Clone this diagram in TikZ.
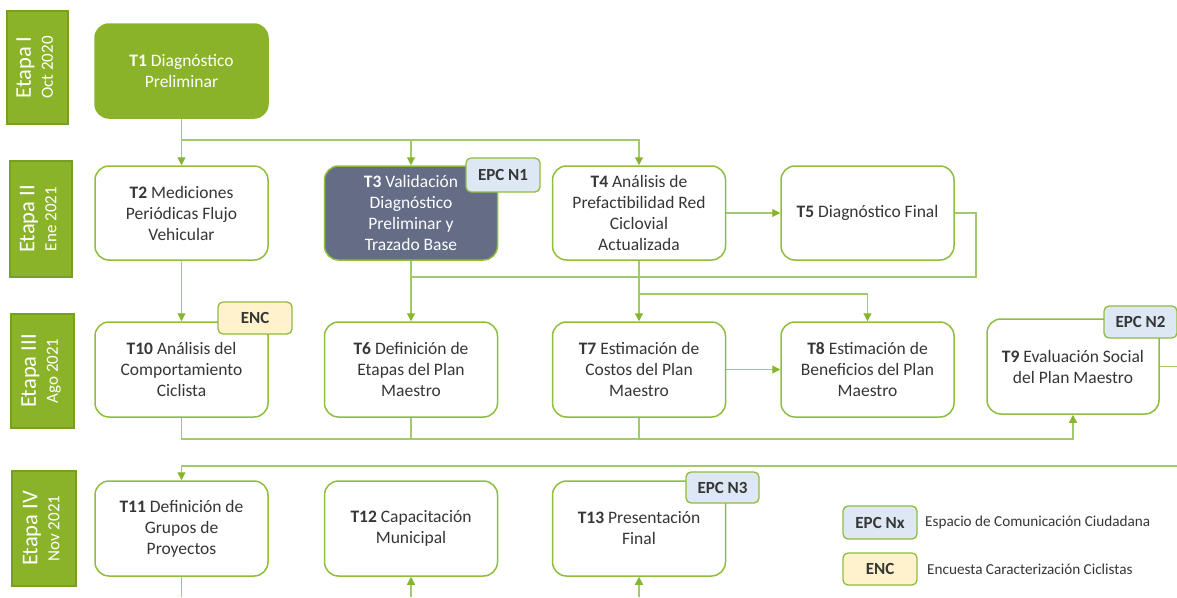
\documentclass[tikz,border=0pt]{standalone}
\usepackage{fontspec}
\setmainfont{Carlito}
\usepackage{graphicx}
\usetikzlibrary{arrows.meta}
\definecolor{stagegreen}{HTML}{8AB32A}
\definecolor{stageedge}{HTML}{76A024}
\definecolor{boxedge}{HTML}{8FBD3D}
\definecolor{linegreen}{HTML}{A2C96A}
\definecolor{tipgreen}{HTML}{86B52E}
\definecolor{slate}{HTML}{646C86}
\definecolor{epcblue}{HTML}{DDE8F4}
\definecolor{encyellow}{HTML}{FFF2CC}
\definecolor{txt}{HTML}{363636}
\newcommand\etapalbl[2]{\rotatebox{90}{\fontsize{17}{22}\selectfont\begin{tabular}{@{}c@{}}{\fontsize{22.5}{22}\selectfont #1}\\#2\end{tabular}}}
\begin{document}
\begin{tikzpicture}[x=1pt,y=-1pt,
  task/.style={draw=boxedge, line width=1.5pt, rounded corners=14pt, fill=white,
    minimum width=173pt, minimum height=94pt, inner sep=0pt, align=center,
    text=txt, font=\fontsize{17.5}{21}\selectfont},
  badge/.style={draw=boxedge, line width=1.3pt, rounded corners=5pt,
    minimum width=73pt, minimum height=32pt, inner sep=0pt,
    font=\fontsize{17}{20}\selectfont\bfseries, text=txt},
  epc/.style={badge, fill=epcblue},
  enc/.style={badge, fill=encyellow},
  etapa/.style={draw=stageedge, line width=1.2pt, fill=stagegreen, inner sep=0pt, text=white},
  legtext/.style={anchor=west, inner sep=0pt, text=txt, font=\fontsize{15.2}{18}\selectfont},
  conn/.style={draw=linegreen, line width=1.2pt},
  arr/.style={conn, -{Triangle[length=8pt,width=8pt,color=tipgreen]}}
]
\useasboundingbox (0,0) rectangle (1177,597);

% stages
\node[etapa, minimum width=61pt, minimum height=113pt] (E1) at (37.5,67.5) {\etapalbl{Etapa I}{Oct 2020}};
\node[etapa, minimum width=62pt, minimum height=116pt] (E2) at (41,219) {\etapalbl{Etapa II}{Ene 2021}};
\node[etapa, minimum width=63pt, minimum height=114pt] (E3) at (42.5,371) {\etapalbl{Etapa III}{Ago 2021}};
\node[etapa, minimum width=64pt, minimum height=115pt] (E4) at (44,528.5) {\etapalbl{Etapa IV}{Nov 2021}};

% tasks
\node[task, fill=stagegreen, draw=stagegreen, text=white] (T1) at (181.5,71) {\textbf{T1} Diagnóstico\\Preliminar};
\node[task] (T2) at (181.5,213) {\textbf{T2} Mediciones\\Periódicas Flujo\\Vehicular};
\node[task, fill=slate, text=white] (T3) at (411,213) {\textbf{T3} Validación\\Diagnóstico\\Preliminar y\\Trazado Base};
\node[task] (T4) at (639,213) {\textbf{T4} Análisis de\\Prefactibilidad Red\\Ciclovial\\Actualizada};
\node[task] (T5) at (867.5,213) {\textbf{T5} Diagnóstico Final};

\node[task, minimum height=95pt] (T10) at (181.5,369.5) {\textbf{T10} Análisis del\\Comportamiento\\Ciclista};
\node[task, minimum height=95pt] (T6) at (411,369.5) {\textbf{T6} Definición de\\Etapas del Plan\\Maestro};
\node[task, minimum height=95pt] (T7) at (639,369.5) {\textbf{T7} Estimación de\\Costos del Plan\\Maestro};
\node[task, minimum height=95pt] (T8) at (867.5,369.5) {\textbf{T8} Estimación de\\Beneficios del Plan\\Maestro};
\node[task, minimum width=172pt, minimum height=95pt] (T9) at (1073,366.5) {\textbf{T9} Evaluación Social\\del Plan Maestro};

\node[task, minimum height=95pt] (T11) at (181.5,528.5) {\textbf{T11} Definición de\\Grupos de\\Proyectos};
\node[task, minimum height=95pt] (T12) at (411,528.5) {\textbf{T12} Capacitación\\Municipal};
\node[task, minimum height=95pt] (T13) at (639,528.5) {\textbf{T13} Presentación\\Final};

% badges
\node[epc, minimum width=74pt, minimum height=34pt] (B1) at (503,175) {EPC N1};
\node[enc, minimum width=74pt] (B2) at (255,318) {ENC};
\node[epc] (B3) at (1140.5,322) {EPC N2};
\node[epc, minimum height=31pt] (B4) at (722.5,487.5) {EPC N3};

% legend
\node[epc, minimum width=74pt, minimum height=33pt] (L1) at (880,522.5) {EPC Nx};
\node[legtext] (L1t) at (925,522) {Espacio de Comunicación Ciudadana};
\node[enc, minimum width=74pt] (L2) at (880,569) {ENC};
\node[legtext] (L2t) at (927,569) {Encuesta Caracterización Ciclistas};

% helper coordinates
\coordinate (j1) at (181.5,140);
\coordinate (k1) at (976,277);
\coordinate (j2) at (639,294);
\coordinate (m1) at (181.5,439);
\coordinate (eR1) at (1177,366.5);
\coordinate (eR2) at (1177,466);
\coordinate (b11) at (181.5,597);
\coordinate (b12) at (411,597);
\coordinate (b13) at (639,597);

% connectors
\draw[arr] (T1.south) -- (T2.north);
\draw[arr] (j1) -| (T3.north);
\draw[arr] (j1) -| (T4.north);
\draw[arr] (T4.east) -- (T5.west);
\draw[conn] (T5.east) -| (k1) -- (T6.north |- k1);
\draw[arr] (T3.south) -- (T6.north);
\draw[arr] (T4.south) -- (T7.north);
\draw[arr] (j2) -| (T8.north);
\draw[arr] (T2.south) -- (T10.north);
\draw[arr] (T7.east) -- (T8.west);
\draw[arr] (T10.south) |- (T9.south |- m1) -- (T9.south);
\draw[conn] (T6.south) -- (T6.south |- m1);
\draw[conn] (T7.south) -- (T7.south |- m1);
\draw[conn] (T9.east) -- (eR1);
\draw[arr] (eR2) -| (T11.north);
\draw[conn] (T11.south) -- (b11);
\draw[arr] (b12) -- (T12.south);
\draw[arr] (b13) -- (T13.south);
\end{tikzpicture}
\end{document}
